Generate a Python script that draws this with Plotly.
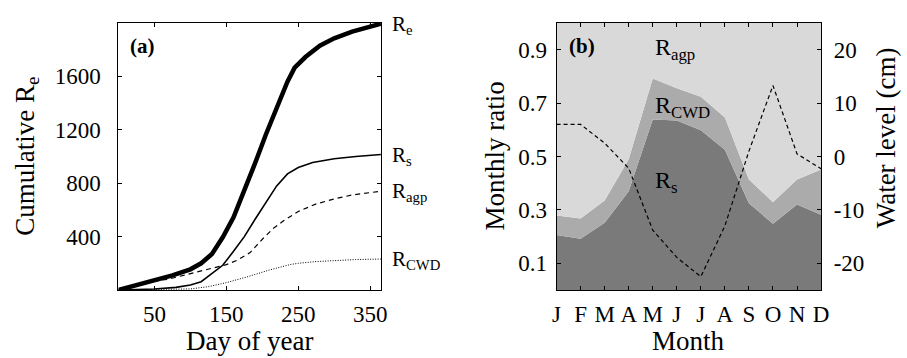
import plotly.graph_objects as go

FONT = "Liberation Serif"

# ---------- Panel (a): cumulative components (day of year) ----------
days_re = [0, 25, 50, 75, 100, 115, 130, 145, 160, 175, 190, 205, 220, 235, 245, 260, 280, 300, 325, 350, 365]
re_cum = [0, 35, 75, 110, 155, 200, 270, 395, 545, 740, 950, 1165, 1370, 1560, 1665, 1745, 1830, 1885, 1935, 1970, 1995]

days_rs = [0, 50, 80, 100, 115, 130, 145, 160, 175, 190, 205, 220, 235, 250, 270, 300, 330, 365]
rs_cum = [0, 8, 20, 38, 62, 125, 185, 290, 400, 530, 650, 780, 870, 918, 955, 983, 1000, 1015]

days_agp = [0, 35, 70, 105, 130, 150, 165, 183, 200, 215, 230, 250, 275, 300, 325, 365]
agp_cum = [0, 55, 82, 130, 160, 190, 222, 280, 380, 460, 520, 588, 645, 682, 712, 740]

days_cwd = [0, 50, 100, 125, 150, 180, 210, 240, 250, 275, 300, 330, 365]
cwd_cum = [0, 2, 8, 25, 55, 100, 150, 192, 200, 213, 222, 228, 232]

x_ticks_a = [50, 150, 250, 350]
y_ticks_a = [400, 800, 1200, 1600]

# ---------- Panel (b): monthly ratios and water level ----------
months = list(range(1, 13))
month_labels = ["J", "F", "M", "A", "M", "J", "J", "A", "S", "O", "N", "D"]
ratio_rs = [0.206, 0.192, 0.252, 0.370, 0.639, 0.635, 0.598, 0.525, 0.325, 0.248, 0.320, 0.282]
ratio_cwd = [0.073, 0.076, 0.083, 0.120, 0.153, 0.121, 0.126, 0.121, 0.089, 0.081, 0.094, 0.169]
ratio_agp = [0.721, 0.732, 0.665, 0.510, 0.208, 0.244, 0.276, 0.354, 0.586, 0.671, 0.586, 0.549]
water_level = [6.0, 6.0, 2.5, -2.2, -13.8, -18.9, -22.5, -13.0, 1.0, 13.3, 0.5, -2.3]

ratio_ticks = [0.1, 0.3, 0.5, 0.7, 0.9]
water_ticks = [-20, -10, 0, 10, 20]
water_ticktext = ["-20", "-10", "0", "10", "20"]

DARK = "#7a7a7a"
MID = "#ababab"
LIGHT = "#d9d9d9"

W, H = 907, 358

fig = go.Figure()

# Panel (a) lines
fig.add_trace(go.Scatter(x=days_re, y=re_cum, mode="lines",
                         line=dict(color="black", width=4.5), xaxis="x", yaxis="y"))
fig.add_trace(go.Scatter(x=days_rs, y=rs_cum, mode="lines",
                         line=dict(color="black", width=1.6), xaxis="x", yaxis="y"))
fig.add_trace(go.Scatter(x=days_agp, y=agp_cum, mode="lines",
                         line=dict(color="black", width=1.2, dash="5px,4px"), xaxis="x", yaxis="y"))
fig.add_trace(go.Scatter(x=days_cwd, y=cwd_cum, mode="lines",
                         line=dict(color="black", width=1, dash="1px,1.5px"), xaxis="x", yaxis="y"))

# Panel (b) stacked areas
for vals, col in [(ratio_rs, DARK), (ratio_cwd, MID), (ratio_agp, LIGHT)]:
    fig.add_trace(go.Scatter(x=months, y=vals, mode="lines", stackgroup="one",
                             line=dict(width=0, color=col), fillcolor=col,
                             xaxis="x2", yaxis="y2"))
fig.add_trace(go.Scatter(x=months, y=water_level, mode="lines",
                         line=dict(color="black", width=1.2, dash="4px,3px"),
                         xaxis="x2", yaxis="y3"))

tickfont = dict(family=FONT, size=23, color="black")
common = dict(showline=True, linecolor="black", linewidth=1, ticks="inside", ticklen=4,
              tickcolor="black", tickwidth=1, showgrid=False, zeroline=False, tickfont=tickfont)

ydom = [1 - 290 / H, 1 - 23 / H]

fig.update_layout(
    width=W, height=H,
    margin=dict(l=0, r=0, t=0, b=0),
    paper_bgcolor="white", plot_bgcolor="white",
    showlegend=False,
    font=dict(family=FONT, color="black"),
    xaxis=dict(common, domain=[116 / W, 382 / W], range=[0, 365], tickvals=x_ticks_a,
               mirror="ticks", anchor="y", ticklabelstandoff=3),
    yaxis=dict(common, domain=ydom, range=[0, 2000], tickvals=y_ticks_a,
               mirror="ticks", anchor="x", ticklabelstandoff=12),
    xaxis2=dict(common, domain=[560 / W, 828 / W], range=[1, 12], tickvals=months,
                ticktext=month_labels, mirror="ticks", anchor="y2", ticklabelstandoff=3),
    yaxis2=dict(common, domain=ydom, range=[0, 1], tickvals=ratio_ticks,
                ticktext=[f"{v:.1f}" for v in ratio_ticks], mirror=True, anchor="x2",
                ticklabelstandoff=4),
    yaxis3=dict(common, overlaying="y2", side="right", anchor="x2", range=[-25, 25],
                tickvals=water_ticks, ticktext=water_ticktext, ticklabelstandoff=7),
)

ann = []
title_font = dict(family=FONT, size=27, color="black")
ann.append(dict(text="Day of year", xref="paper", yref="paper", x=249 / W, y=1 - 341 / H,
                xanchor="center", yanchor="middle", showarrow=False, font=title_font))
ann.append(dict(text="Month", xref="paper", yref="paper", x=694 / W, y=1 - 341 / H,
                xanchor="center", yanchor="middle", showarrow=False, font=title_font))
ann.append(dict(text="Cumulative R<sub>e</sub>", xref="paper", yref="paper", x=23 / W,
                y=1 - 156 / H, textangle=-90, xanchor="center", yanchor="middle",
                showarrow=False, font=title_font))
ann.append(dict(text="Monthly ratio", xref="paper", yref="paper", x=498 / W, y=1 - 156 / H,
                textangle=-90, xanchor="center", yanchor="middle", showarrow=False, font=title_font))
ann.append(dict(text="Water level (cm)", xref="paper", yref="paper", x=894 / W, y=1 - 138 / H,
                textangle=-90, xanchor="center", yanchor="middle", showarrow=False, font=title_font))
ann.append(dict(text="<b>(a)</b>", xref="paper", yref="paper", x=126 / W, y=1 - 46 / H,
                xanchor="left", yanchor="middle", showarrow=False,
                font=dict(family=FONT, size=21, color="black")))
ann.append(dict(text="<b>(b)</b>", xref="paper", yref="paper", x=571 / W, y=1 - 46 / H,
                xanchor="left", yanchor="middle", showarrow=False,
                font=dict(family=FONT, size=21, color="black")))
lab_font = dict(family=FONT, size=21, color="black")
for txt, xs, ys in [("R<sub>e</sub>", days_re, re_cum), ("R<sub>s</sub>", days_rs, rs_cum),
                    ("R<sub>agp</sub>", days_agp, agp_cum), ("R<sub>CWD</sub>", days_cwd, cwd_cum)]:
    ann.append(dict(text=txt, xref="x", yref="y", x=xs[-1], y=ys[-1], xanchor="left",
                    yanchor="middle", xshift=9, yshift=-1, showarrow=False, font=lab_font))
lab_font_b = dict(family=FONT, size=24, color="black")
for txt, yv in [("R<sub>agp</sub>", 0.908), ("R<sub>CWD</sub>", 0.69), ("R<sub>s</sub>", 0.41)]:
    ann.append(dict(text=txt, xref="x2", yref="y2", x=5, y=yv, xanchor="left", yanchor="middle",
                    yshift=-1, showarrow=False, font=lab_font_b))

fig.update_layout(annotations=ann)
fig.write_html("out.html", config={"displayModeBar": False},
               post_script="document.body.style.margin='0';document.body.style.overflow='hidden';")
